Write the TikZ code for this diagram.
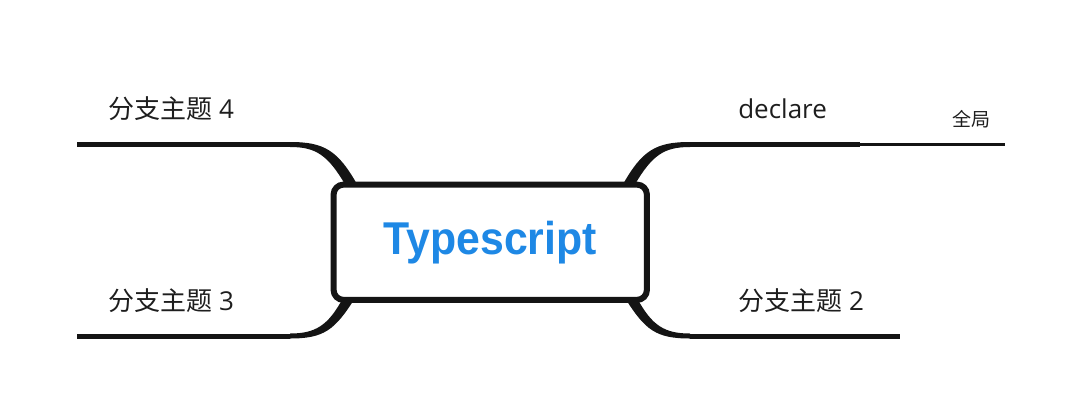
\documentclass[tikz,border=0pt]{standalone}
\usepackage{fontspec}
\setmainfont{Open Sans}
\newfontfamily\cjk{Noto Sans CJK SC}
\newfontfamily\titlefont{Liberation Sans}
\usetikzlibrary{calc}
\definecolor{ink}{HTML}{141414}
\definecolor{txt}{HTML}{1E1E1E}
\definecolor{tsblue}{HTML}{1E88E5}
\tikzset{
  branch/.style={draw=ink, line width=3.75pt},
  thinbranch/.style={draw=ink, line width=2.1pt},
  taper/.style={fill=ink, draw=none},
  rootbox/.style={draw=ink, fill=white, line width=4.5pt, rounded corners=7.5pt,
    minimum width=235pt, minimum height=86.5pt, inner sep=0pt},
  lbl/.style={anchor=base west, inner sep=0pt, text=txt, font=\fontsize{19.5}{21}\selectfont},
  small/.style={anchor=base west, inner sep=0pt, text=txt, font=\cjk\fontsize{14.25}{16}\selectfont}
}
\begin{document}
\begin{tikzpicture}[x=0.75pt,y=-0.75pt]
\useasboundingbox (0,0) rectangle (1081,415);
% coordinates
\coordinate (l4) at (77,144.5);
\coordinate (j4) at (290,144.5);
\coordinate (l3) at (77,336);
\coordinate (j3) at (290,336);
\coordinate (jd) at (690,144.5);
\coordinate (md) at (860,144.5);
\coordinate (eg) at (1005,144.5);
\coordinate (j2) at (690,336);
\coordinate (e2) at (900,336);
% tapered curves
\fill[taper] (358,186) .. controls (338,150) and (324,142) .. (290,142)
  -- (290,147) .. controls (316,147) and (328,155) .. (346,186) -- cycle;
\fill[taper] (355,298) .. controls (335,330) and (324,338.5) .. (290,338.5)
  -- (290,333.5) .. controls (315,333.5) and (328,326) .. (343,298) -- cycle;
\fill[taper] (622,186) .. controls (642,150) and (656,142) .. (690,142)
  -- (690,147) .. controls (664,147) and (652,155) .. (634,186) -- cycle;
\fill[taper] (625,298) .. controls (645,330) and (656,338.5) .. (690,338.5)
  -- (690,333.5) .. controls (665,333.5) and (652,326) .. (637,298) -- cycle;
% horizontal branches
\draw[branch] (l4) -- (j4);
\draw[branch] (l3) -- (j3);
\draw[branch] (jd) -- (md);
\draw[thinbranch] (md) -- (eg);
\draw[branch] (j2) -- (e2);
% root
\node[rootbox] (root) at (490.25,242.25) {\scalebox{0.93}[1]{\titlefont\bfseries\fontsize{34.5}{36}\selectfont\color{tsblue}Typescript}};
% labels
\node[lbl] (t4) at (108,118) {{\cjk 分支主题} 4};
\node[lbl] (t3) at (108,310) {{\cjk 分支主题} 3};
\node[lbl] (t2) at (738,310) {{\cjk 分支主题} 2};
\node[lbl] (td) at (738,118) {declare};
\node[small] (tg) at (952,126) {全局};
\end{tikzpicture}
\end{document}
